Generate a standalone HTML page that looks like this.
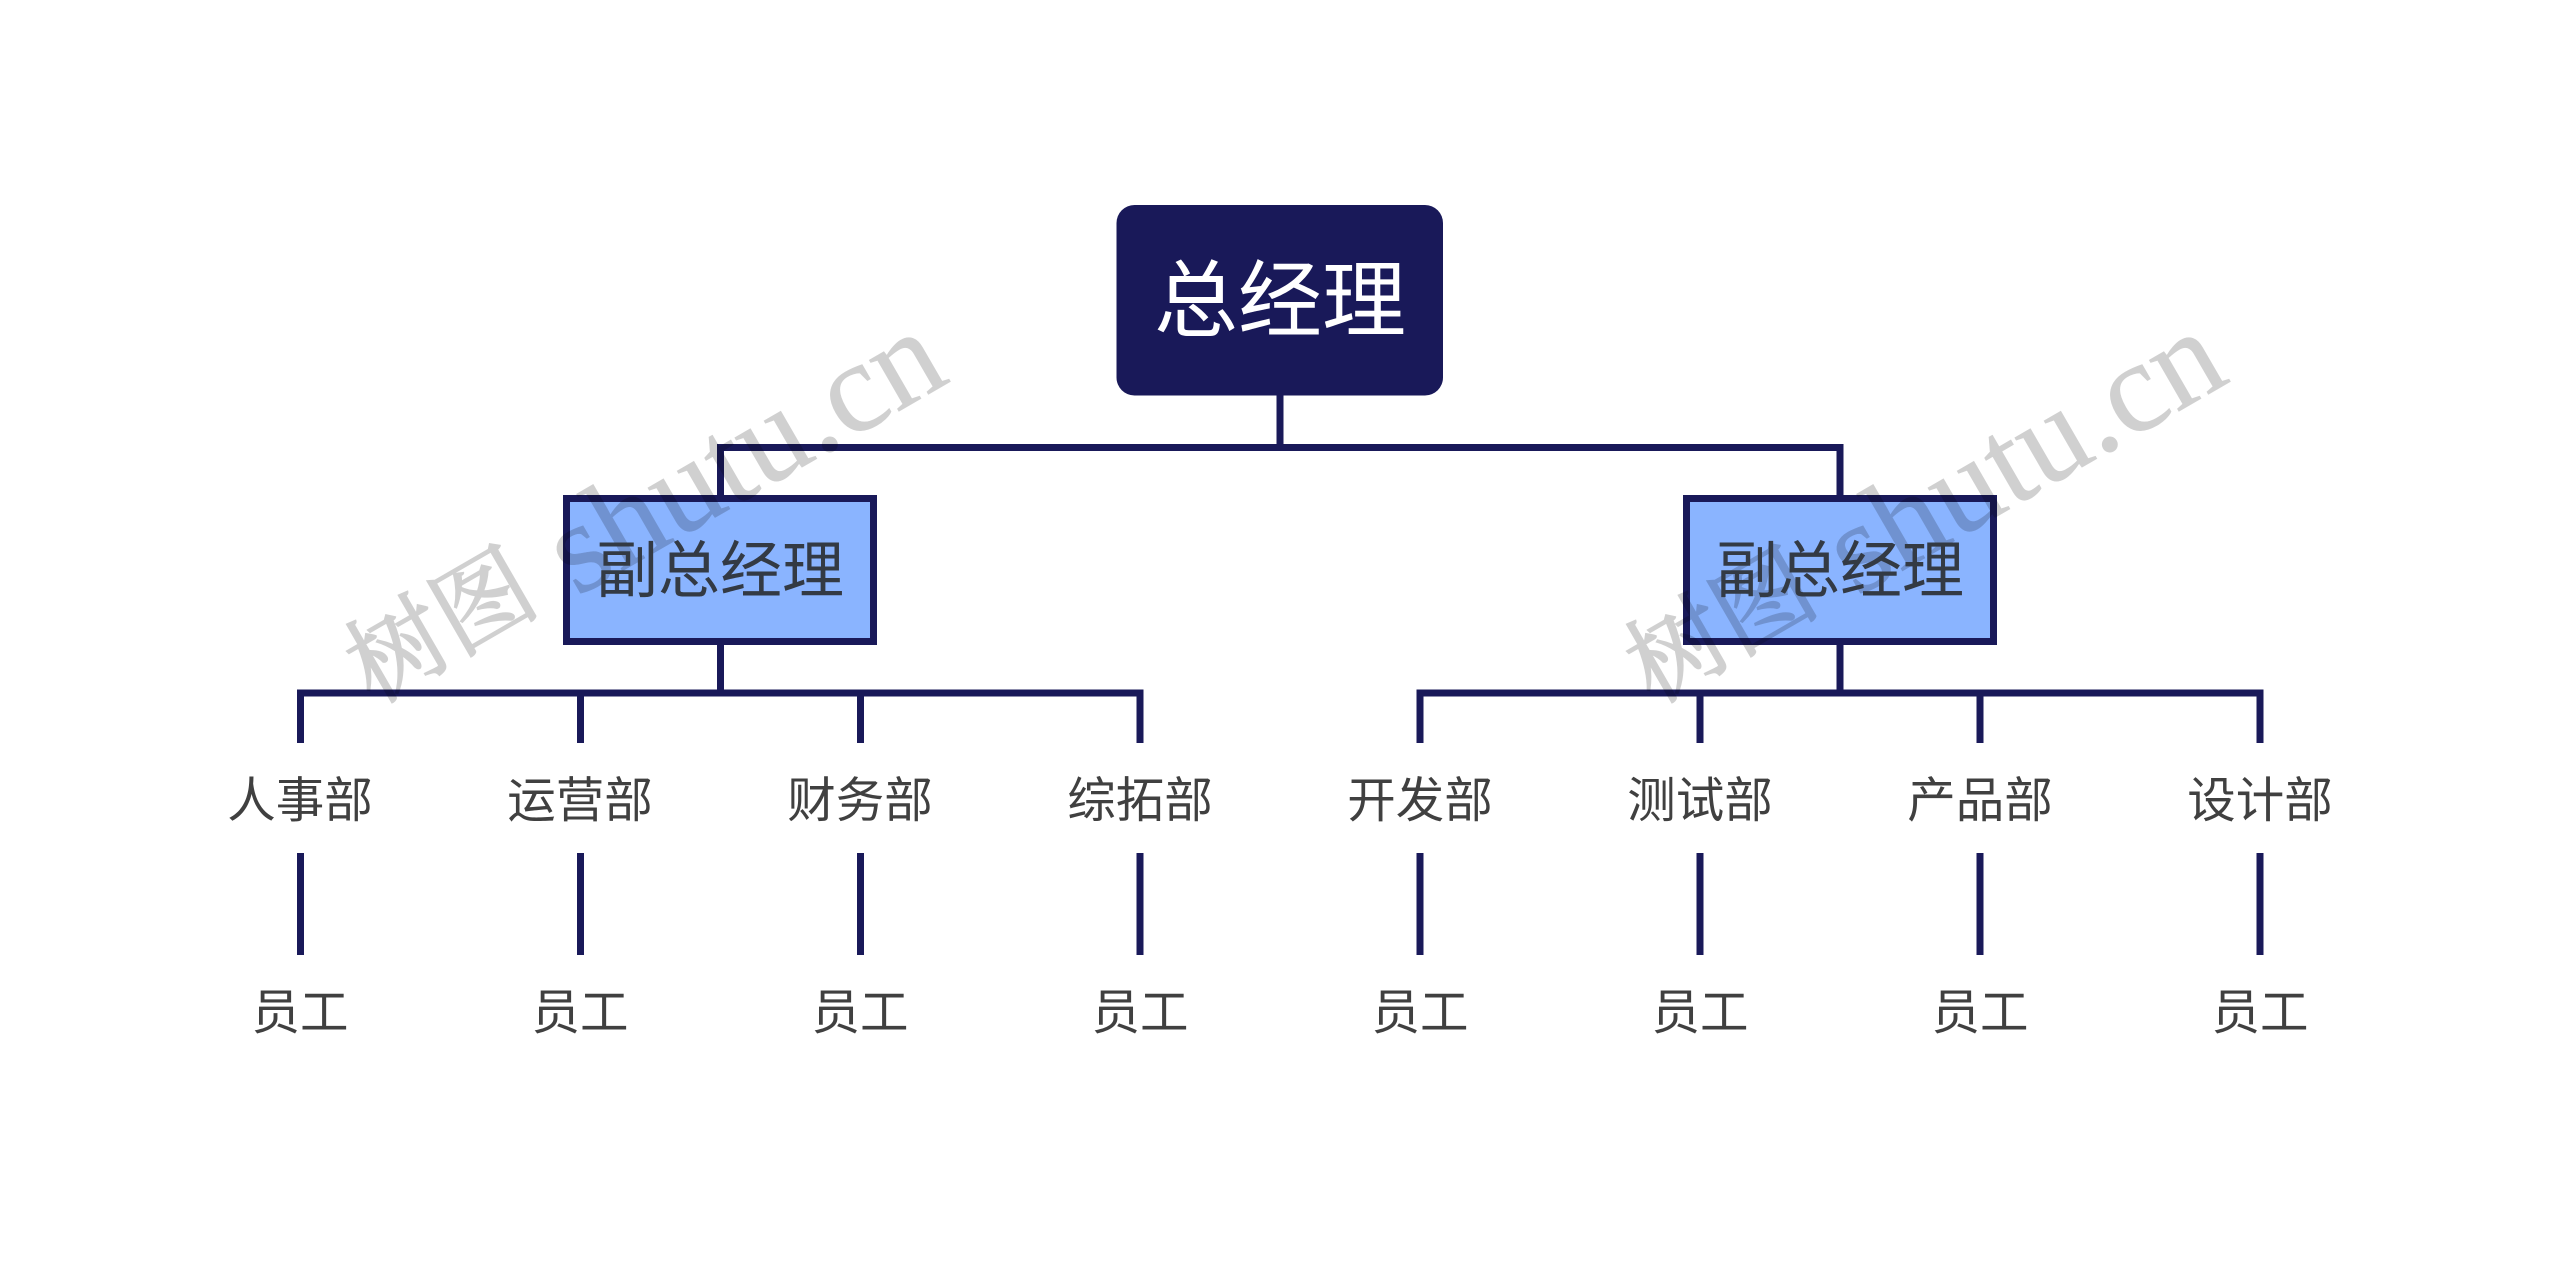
<!DOCTYPE html>
<html lang="zh">
<head>
<meta charset="utf-8">
<title>组织结构图</title>
<style>
html,body{margin:0;padding:0;background:#fff;width:2560px;height:1270px;overflow:hidden}
svg{display:block}
text{font-family:"Liberation Sans","Noto Sans CJK SC",sans-serif}
.dept{font-size:48.500px;fill:#404040;text-anchor:middle}
.vp{font-size:62px;fill:#333a44;text-anchor:middle}
.root{font-size:84px;fill:#fff;text-anchor:middle}
.wm{font-family:"Liberation Serif","Noto Serif CJK SC",serif;font-size:129px;fill:#000;stroke:#000;stroke-width:.6;opacity:.18}
.cj{font-size:98px;stroke-width:1.800}
.l{stroke:#191959;stroke-width:7;fill:none;stroke-linejoin:miter;stroke-linecap:butt}
</style>
</head>
<body>
<svg width="2560" height="1270" viewBox="0 0 2560 1270" xmlns="http://www.w3.org/2000/svg">
<rect width="2560" height="1270" fill="#fff"/>

<!-- connectors -->
<path class="l" d="M1280 395V447M720.500 495V447.500H1840V495"/>
<path class="l" d="M720.500 645V693M300.500 743V693H1140V743M580.500 693V743M860.500 693V743"/>
<path class="l" d="M1840 645V693M1420 743V693H2260V743M1700 693V743M1980 693V743"/>
<path class="l" d="M300.500 853V955M580.500 853V955M860.500 853V955M1140 853V955M1420 853V955M1700 853V955M1980 853V955M2260 853V955"/>

<!-- nodes -->
<rect x="1116.500" y="205" width="326.500" height="190.500" rx="18" ry="18" fill="#191959"/>
<rect x="566.500" y="498.500" width="307" height="143" fill="#8ab4ff" stroke="#191959" stroke-width="7"/>
<rect x="1686.500" y="498.500" width="307" height="143" fill="#8ab4ff" stroke="#191959" stroke-width="7"/>

<!-- watermark -->
<text class="wm" transform="translate(375 708) rotate(-30)"><tspan class="cj" y="-4">树图</tspan><tspan x="230" y="5">shutu.cn</tspan></text>
<text class="wm" transform="translate(1655 708) rotate(-30)"><tspan class="cj" y="-4">树图</tspan><tspan x="230" y="5">shutu.cn</tspan></text>

<!-- labels -->
<text class="root" x="1280" y="330">总经理</text>
<text class="vp" x="720" y="592">副总经理</text>
<text class="vp" x="1840" y="592">副总经理</text>

<text class="dept" x="300" y="817">人事部</text>
<text class="dept" x="580" y="817">运营部</text>
<text class="dept" x="860" y="817">财务部</text>
<text class="dept" x="1140" y="817">综拓部</text>
<text class="dept" x="1420" y="817">开发部</text>
<text class="dept" x="1700" y="817">测试部</text>
<text class="dept" x="1980" y="817">产品部</text>
<text class="dept" x="2260" y="817">设计部</text>

<text class="dept" x="300" y="1029">员工</text>
<text class="dept" x="580" y="1029">员工</text>
<text class="dept" x="860" y="1029">员工</text>
<text class="dept" x="1140" y="1029">员工</text>
<text class="dept" x="1420" y="1029">员工</text>
<text class="dept" x="1700" y="1029">员工</text>
<text class="dept" x="1980" y="1029">员工</text>
<text class="dept" x="2260" y="1029">员工</text>
</svg>
</body>
</html>
